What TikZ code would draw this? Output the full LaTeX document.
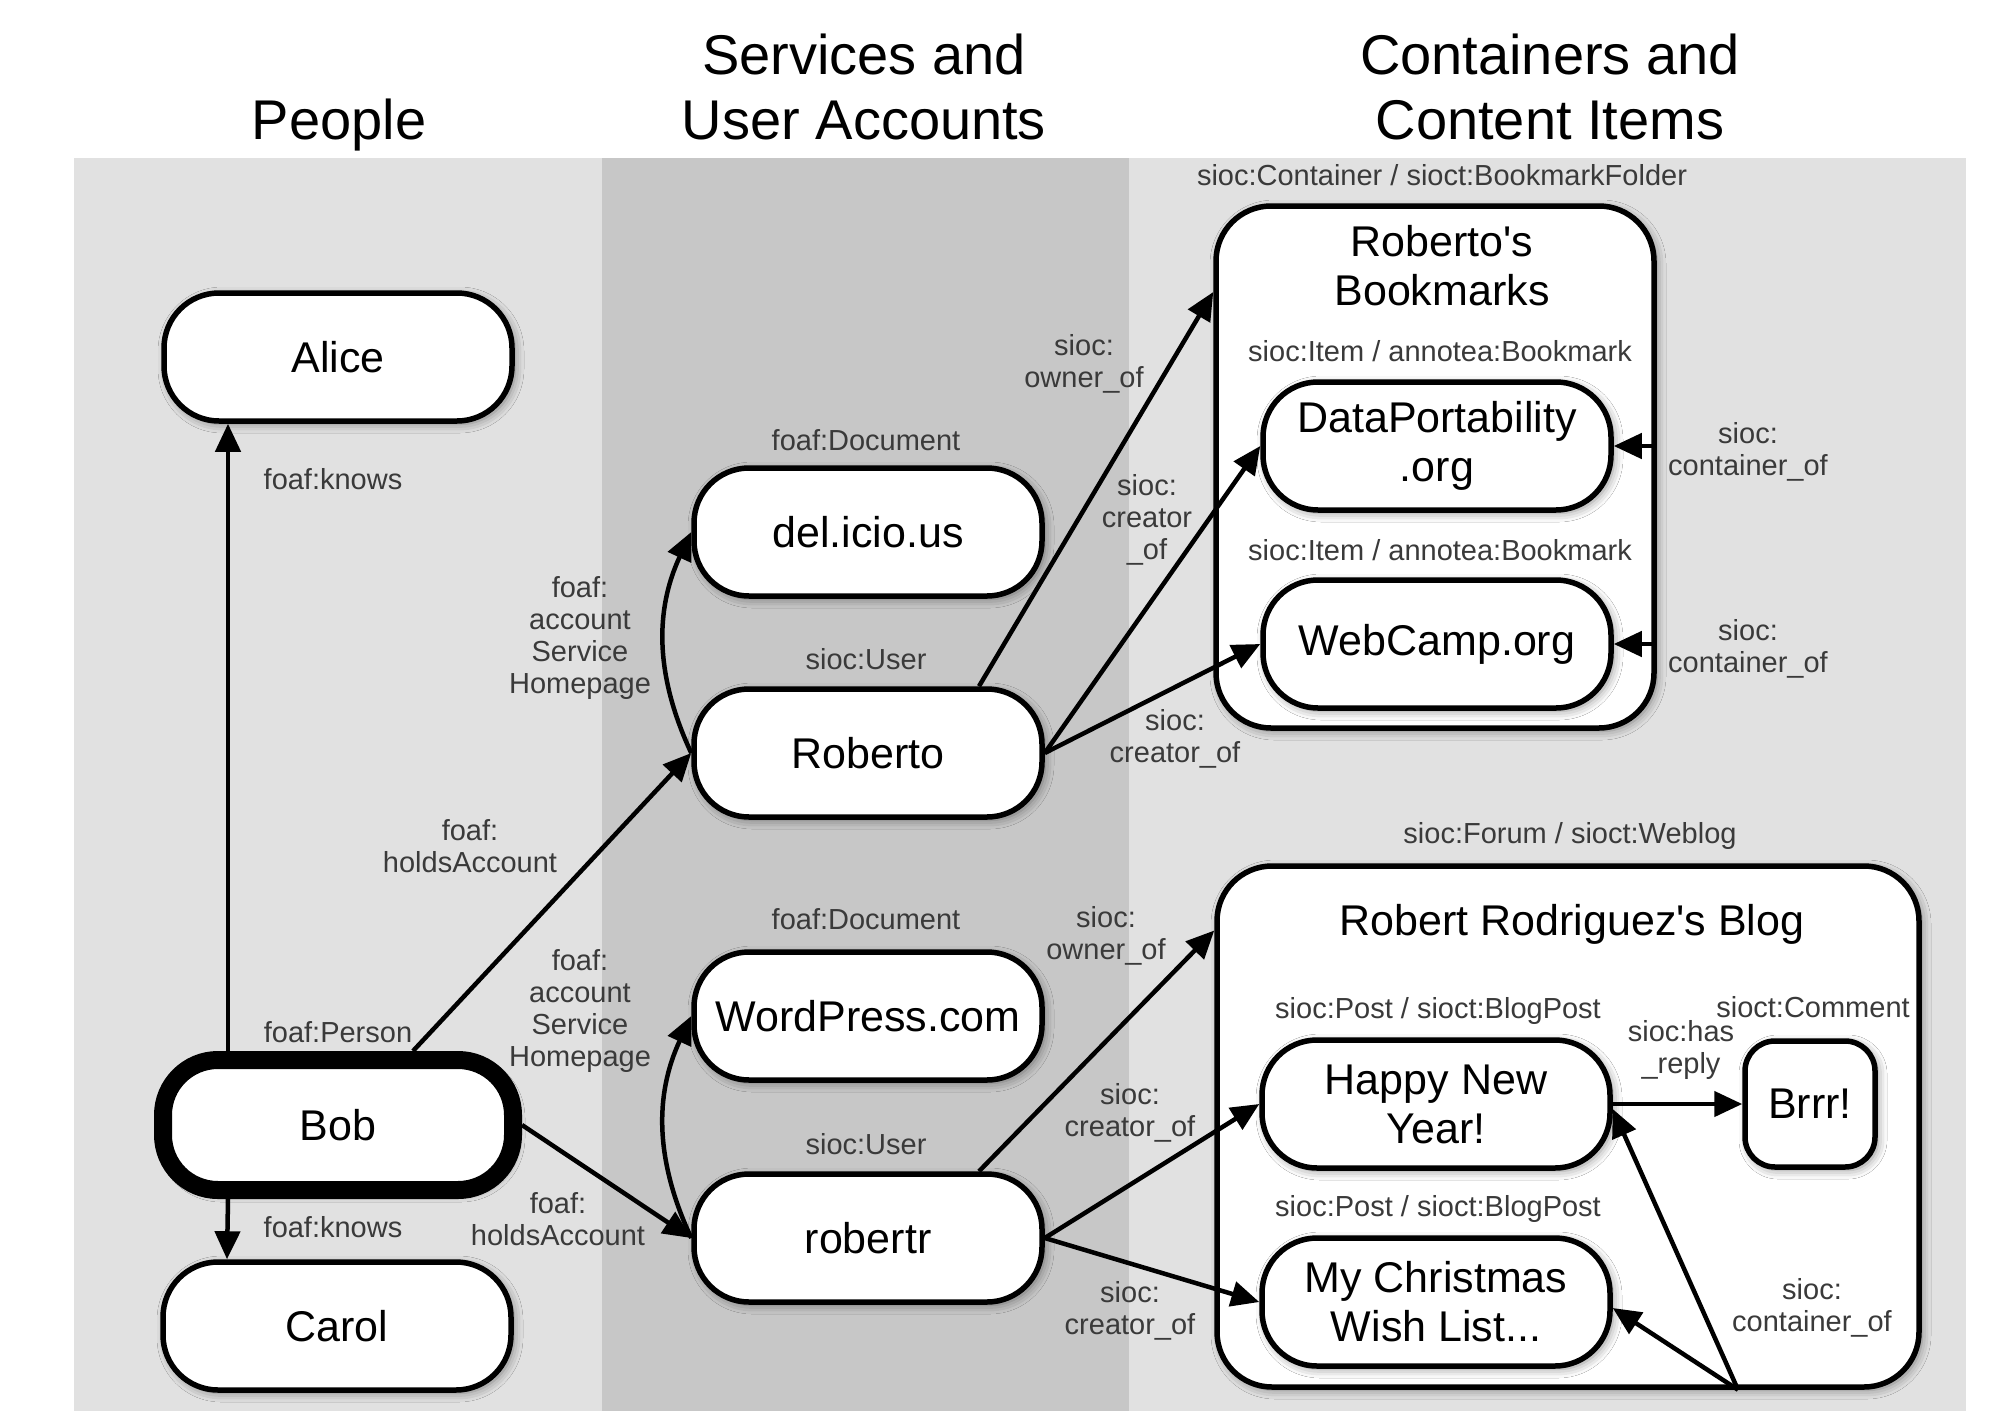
\documentclass[tikz,border=0pt]{standalone}
\usepackage{fontspec}
\setmainfont{Liberation Sans}
\usetikzlibrary{arrows.meta,shadows.blur,calc}
\definecolor{bglight}{HTML}{E1E1E1}
\definecolor{bgdark}{HTML}{C7C7C7}
\definecolor{labelgray}{HTML}{3A3A3A}
\begin{document}
\begin{tikzpicture}[x=1pt,y=1pt,
  softshadow/.style={blur shadow={shadow xshift=3pt,shadow yshift=-3pt,shadow blur radius=9pt,shadow opacity=45}},
  box/.style={draw=black,line width=5.5pt,fill=white,rounded corners=55pt,
    minimum width=348pt,minimum height=128pt,inner sep=0pt,align=center,
    font=\fontsize{43}{49}\selectfont,softshadow},
  container/.style={draw=black,line width=5.5pt,fill=white,rounded corners=55pt,inner sep=0pt,softshadow},
  lbl/.style={text=labelgray,font=\fontsize{29}{32}\selectfont,align=center,inner sep=0pt},
  title/.style={font=\fontsize{56}{65}\selectfont,align=center,inner sep=0pt},
  arr/.style={line width=4.5pt,-{Triangle[length=28pt,width=25pt]}},
]
\useasboundingbox (0,0) rectangle (2010,-1411);
% backgrounds
\fill[bglight] (74,-158) rectangle (1966,-1411);
\fill[bgdark] (602,-158) rectangle (1129,-1411);
% titles
\node[title,anchor=base] (tPeople) at (339,-139) {People};
\node[title,anchor=north] (tServ) at (864,-34) {Services and\\User Accounts};
\node[title,anchor=north] (tCont) at (1550,-34) {Containers and\\Content Items};
% containers
\node[container,minimum width=438pt,minimum height=522pt] (bm) at (1435,-467) {};
\node[container,minimum width=702pt,minimum height=521pt] (blog) at (1568,-1126.5) {};
\node[font=\fontsize{43}{49}\selectfont,align=center,inner sep=0pt] (bmtitle) at (1442,-266) {Roberto\textquotesingle s\\Bookmarks};
\node[font=\fontsize{43}{49}\selectfont,inner sep=0pt] (blogtitle) at (1572,-924) {Robert Rodriguez\textquotesingle s Blog};
% people
\node[box] (alice) at (338,-357) {Alice};
\node[box,line width=18pt,minimum width=350pt,minimum height=130pt] (bob) at (338,-1125) {Bob};
\node[box] (carol) at (337,-1326) {Carol};
% services / accounts
\node[box] (del) at (868,-532) {del.icio.us};
\node[box] (roberto) at (868,-753) {Roberto};
\node[box] (wp) at (868,-1016) {WordPress.com};
\node[box] (robertr) at (868,-1238) {robertr};
% items
\node[box] (dp) at (1437,-446) {DataPortability\\.org};
\node[box] (wc) at (1437,-644) {WebCamp.org};
\node[box] (happy) at (1436,-1104) {Happy New\\Year!};
\node[box] (xmas) at (1436,-1302) {My Christmas\\Wish List...};
\node[box,rounded corners=30pt,minimum width=130pt,minimum height=126pt] (brrr) at (1810,-1104) {Brrr!};
% type labels
\node[lbl] (lPerson) at (338,-1032) {foaf:Person};
\node[lbl] (lDoc1) at (866,-440) {foaf:Document};
\node[lbl] (lUser1) at (866,-659) {sioc:User};
\node[lbl] (lDoc2) at (866,-919) {foaf:Document};
\node[lbl] (lUser2) at (866,-1144) {sioc:User};
\node[lbl] (lBMF) at (1442,-175) {sioc:Container / sioct:BookmarkFolder};
\node[lbl] (lItem1) at (1440,-351) {sioc:Item / annotea:Bookmark};
\node[lbl] (lItem2) at (1440,-550) {sioc:Item / annotea:Bookmark};
\node[lbl] (lWeblog) at (1570,-836) {sioc:Forum / sioct:Weblog};
\node[lbl] (lPost1) at (1438,-1011) {sioc:Post / sioct:BlogPost};
\node[lbl] (lPost2) at (1438,-1209) {sioc:Post / sioct:BlogPost};
\node[lbl] (lComment) at (1813,-1007) {sioct:Comment};
% edges
\draw[arr] ([xshift=-110pt]bob.north) -- ([xshift=-110pt]alice.south);
\draw[arr] ([xshift=-110pt]bob.south) -- ([xshift=-110pt]carol.north);
\draw[arr] ([xshift=75pt]bob.north) -- (roberto.west);
\draw[arr] (bob.east) -- (robertr.west);
\draw[arr] (roberto.west) to[out=115,in=-115] (del.west);
\draw[arr] (robertr.west) to[out=115,in=-115] (wp.west);
\draw[arr] ([xshift=111pt]roberto.north) -- ([yshift=175pt]bm.west);
\draw[arr] (roberto.east) -- (dp.west);
\draw[arr] (roberto.east) -- (wc.west);
\draw[arr] (dp.east -| bm.east) -- (dp.east);
\draw[arr] (wc.east -| bm.east) -- (wc.east);
\draw[arr] ([xshift=111pt]robertr.north) -- ([yshift=196pt]blog.west);
\draw[arr] (robertr.east) -- (happy.west);
\draw[arr] (robertr.east) -- (xmas.west);
\draw[arr] (happy.east) -- (brrr.west);
\coordinate (cb) at ([xshift=170pt]blog.south);
\draw[arr] (cb) -- ([yshift=-5pt]happy.east);
\draw[arr] (cb) -- ([yshift=-6pt]xmas.east);
% edge labels
\node[lbl] (eKnows1) at (333,-479) {foaf:knows};
\node[lbl] (eKnows2) at (333,-1227) {foaf:knows};
\node[lbl] (eHolds1) at (470,-846) {foaf:\\holdsAccount};
\node[lbl] (eHolds2) at (558,-1219) {foaf:\\holdsAccount};
\node[lbl] (eHome1) at (580,-638) {foaf:\\account\\Service\\Homepage};
\node[lbl] (eHome2) at (580,-1011) {foaf:\\account\\Service\\Homepage};
\node[lbl] (eOwn1) at (1084,-364) {sioc:\\owner\_of};
\node[lbl] (eCre1) at (1147,-520) {sioc:\\creator\\\_of};
\node[lbl] (eCre2) at (1175,-739) {sioc:\\creator\_of};
\node[lbl] (eCont1) at (1748,-452) {sioc:\\container\_of};
\node[lbl] (eCont2) at (1748,-649) {sioc:\\container\_of};
\node[lbl] (eOwn2) at (1106,-936) {sioc:\\owner\_of};
\node[lbl] (eCre3) at (1130,-1113) {sioc:\\creator\_of};
\node[lbl] (eCre4) at (1130,-1311) {sioc:\\creator\_of};
\node[lbl] (eReply) at (1681,-1050) {sioc:has\\\_reply};
\node[lbl] (eCont3) at (1812,-1308) {sioc:\\container\_of};
\end{tikzpicture}
\end{document}
